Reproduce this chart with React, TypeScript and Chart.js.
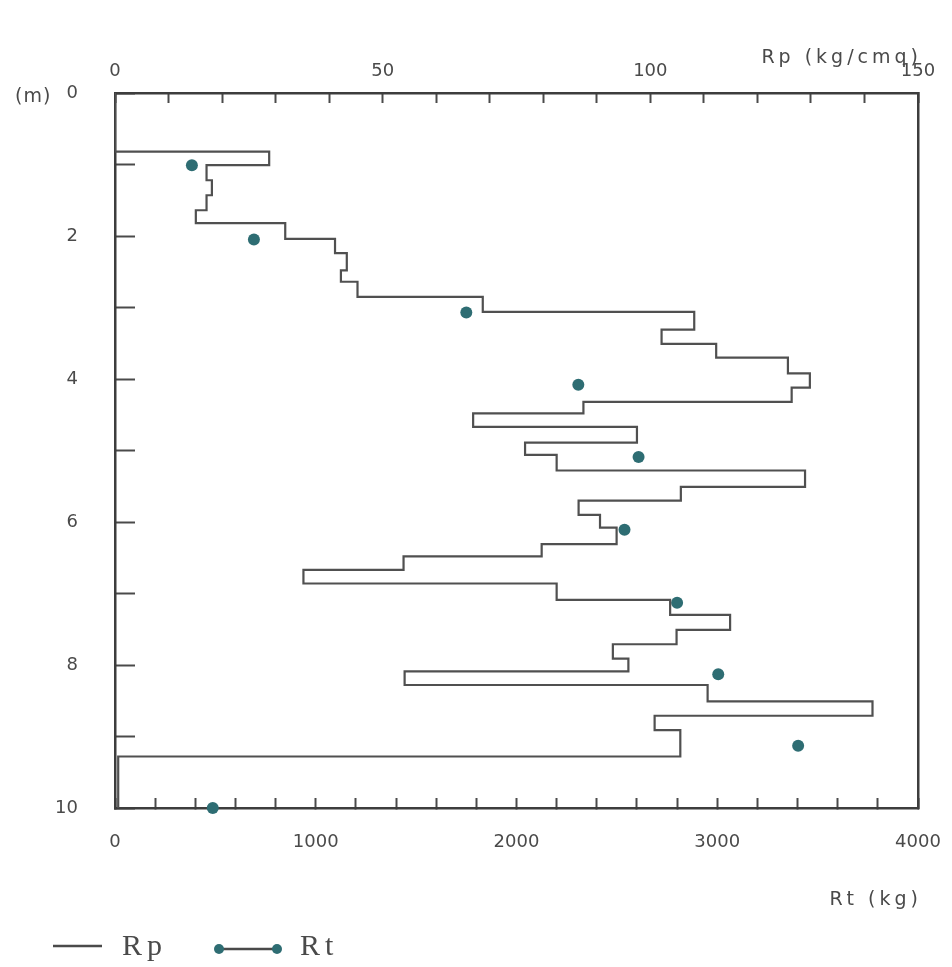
import React, { useEffect, useRef } from "react";
import { Chart, registerables } from "chart.js";

Chart.register(...registerables);

// Rp (kg/cmq) profile: layer top depth (m) and cone resistance of the layer
const rpDepthTop = [0, 0.82, 1.01, 1.22, 1.43, 1.64, 1.82, 2.04, 2.24, 2.48, 2.64, 2.85, 3.06, 3.31, 3.51, 3.7, 3.92, 4.12, 4.32, 4.48, 4.67, 4.89, 5.06, 5.28, 5.51, 5.7, 5.9, 6.08, 6.31, 6.48, 6.67, 6.86, 7.09, 7.3, 7.51, 7.71, 7.91, 8.09, 8.28, 8.51, 8.71, 8.91, 9.28];
const rpValues = [0, 28.8, 17.1, 18.1, 17.1, 15.1, 31.8, 41.1, 43.3, 42.2, 45.3, 68.7, 108.2, 102.1, 112.3, 125.7, 129.8, 126.4, 87.5, 66.9, 97.5, 76.6, 82.5, 128.9, 105.7, 86.6, 90.6, 93.7, 79.7, 53.9, 35.2, 82.5, 103.7, 114.9, 104.9, 93.0, 95.9, 54.1, 110.7, 141.5, 100.8, 105.6, 0.6];
const rpDepthEnd = 10;

// Rt (kg) total resistance readings
const rtDepth = [1.01, 2.05, 3.07, 4.08, 5.09, 6.11, 7.13, 8.13, 9.13, 10.0];
const rtValues = [383, 692, 1750, 2308, 2608, 2538, 2800, 3005, 3403, 487];

// axis settings
const rpLabelTicks = [0, 50, 100, 150];
const rtLabelTicks = [0, 1000, 2000, 3000, 4000];
const depthLabelTicks = [0, 2, 4, 6, 8, 10];

const INK = "#4a4a4a";
const TEAL = "#2e6d73";
const TICK_FONT = { family: "DejaVu Sans", size: 18 };

const extraText = {
  id: "extraText",
  afterDraw(chart: any) {
    const ctx = chart.ctx;
    const area = chart.chartArea;
    ctx.save();
    ctx.fillStyle = INK;
    ctx.textBaseline = "middle";
    ctx.font = "19px 'DejaVu Sans'";
    (ctx as any).letterSpacing = "4px";
    ctx.textAlign = "right";
    ctx.fillText("Rp (kg/cmq)", area.right + 4, 58);
    ctx.fillText("Rt (kg)", area.right + 4, 900);
    (ctx as any).letterSpacing = "1px";
    ctx.textAlign = "left";
    ctx.fillText("(m)", 15, 97);

    // legend
    ctx.strokeStyle = INK;
    ctx.lineWidth = 2.5;
    ctx.beginPath();
    ctx.moveTo(53, 946);
    ctx.lineTo(102, 946);
    ctx.stroke();
    ctx.font = "30px 'Liberation Serif'";
    (ctx as any).letterSpacing = "5px";
    ctx.textBaseline = "alphabetic";
    ctx.fillText("Rp", 122, 955);
    ctx.fillText("Rt", 300, 955);
    ctx.beginPath();
    ctx.moveTo(219, 949);
    ctx.lineTo(277, 949);
    ctx.stroke();
    ctx.fillStyle = TEAL;
    for (const cx of [219, 277]) {
      ctx.beginPath();
      ctx.arc(cx, 949, 5, 0, Math.PI * 2);
      ctx.fill();
    }
    ctx.restore();
  },
};

const noPad = (s: any) => {
  s.paddingLeft = 0;
  s.paddingRight = 0;
  s.paddingTop = 0;
  s.paddingBottom = 0;
};

export default function App() {
  const ref = useRef<HTMLCanvasElement | null>(null);

  useEffect(() => {
    if (!ref.current) return;
    const rpPoints: { x: number; y: number }[] = [];
    rpValues.forEach((v, i) => {
      const top = rpDepthTop[i];
      const bottom = i + 1 < rpDepthTop.length ? rpDepthTop[i + 1] : rpDepthEnd;
      rpPoints.push({ x: v, y: top });
      rpPoints.push({ x: v, y: bottom });
    });
    const rtPoints = rtValues.map((v, i) => ({ x: v, y: rtDepth[i] }));

    const chart = new Chart(ref.current, {
      type: "scatter",
      data: {
        datasets: [
          {
            label: "Rp",
            data: rpPoints,
            xAxisID: "x",
            yAxisID: "y",
            showLine: true,
            borderColor: "#505050",
            borderWidth: 2.2,
            pointRadius: 0,
            tension: 0,
          },
          {
            label: "Rt",
            data: rtPoints,
            xAxisID: "x2",
            yAxisID: "y",
            showLine: false,
            pointRadius: 6,
            pointBackgroundColor: TEAL,
            pointBorderColor: TEAL,
            pointBorderWidth: 0,
            clip: false,
          } as any,
        ],
      },
      options: {
        responsive: false,
        animation: false,
        layout: { padding: { left: 0, right: 34, top: 0, bottom: 0 } },
        plugins: {
          legend: { display: false },
          tooltip: { enabled: false },
        },
        scales: {
          x: {
            type: "linear",
            position: "top",
            min: 0,
            max: 150,
            afterFit: (s: any) => {
              s.height = 93;
              noPad(s);
            },
            ticks: {
              stepSize: 10,
              autoSkip: false,
              maxRotation: 0,
              padding: 21,
              color: INK,
              font: TICK_FONT,
              callback: (v: any) => (rpLabelTicks.includes(Number(v)) ? String(v) : ""),
            },
            grid: {
              drawOnChartArea: false,
              drawTicks: true,
              tickLength: -10,
              tickColor: INK,
              tickWidth: 2,
            },
            border: { display: true, color: "#3d3d3d", width: 2.5 },
          },
          x2: {
            type: "linear",
            position: "bottom",
            min: 0,
            max: 4000,
            afterFit: (s: any) => {
              s.height = 159;
              noPad(s);
            },
            ticks: {
              stepSize: 200,
              autoSkip: false,
              maxRotation: 0,
              padding: 34,
              color: INK,
              font: TICK_FONT,
              callback: (v: any) => (rtLabelTicks.includes(Number(v)) ? String(v) : ""),
            },
            grid: {
              drawOnChartArea: false,
              drawTicks: true,
              tickLength: -10,
              tickColor: INK,
              tickWidth: 2,
            },
            border: { display: true, color: "#3d3d3d", width: 2.5 },
          },
          y: {
            type: "linear",
            position: "left",
            reverse: true,
            min: 0,
            max: 10,
            afterFit: (s: any) => {
              s.width = 115;
              noPad(s);
            },
            ticks: {
              stepSize: 1,
              autoSkip: false,
              padding: 57,
              color: INK,
              font: TICK_FONT,
              callback: (v: any) => (depthLabelTicks.includes(Number(v)) ? String(v) : ""),
            },
            grid: {
              drawOnChartArea: false,
              drawTicks: true,
              tickLength: -20,
              tickColor: INK,
              tickWidth: 2,
            },
            border: { display: true, color: "#3d3d3d", width: 2.5 },
          },
          y2: {
            type: "linear",
            position: "right",
            reverse: true,
            min: 0,
            max: 10,
            afterFit: (s: any) => {
              s.width = 0;
              noPad(s);
            },
            ticks: { display: false },
            grid: { drawOnChartArea: false, drawTicks: false },
            border: { display: true, color: "#3d3d3d", width: 2.5 },
          },
        },
      } as any,
      plugins: [extraText],
    });
    return () => chart.destroy();
  }, []);

  return (
    <div style={{ position: "absolute", left: 0, top: 0, width: 952, height: 967, background: "#fff" }}>
      <canvas ref={ref} width={952} height={967} style={{ display: "block" }} />
    </div>
  );
}
